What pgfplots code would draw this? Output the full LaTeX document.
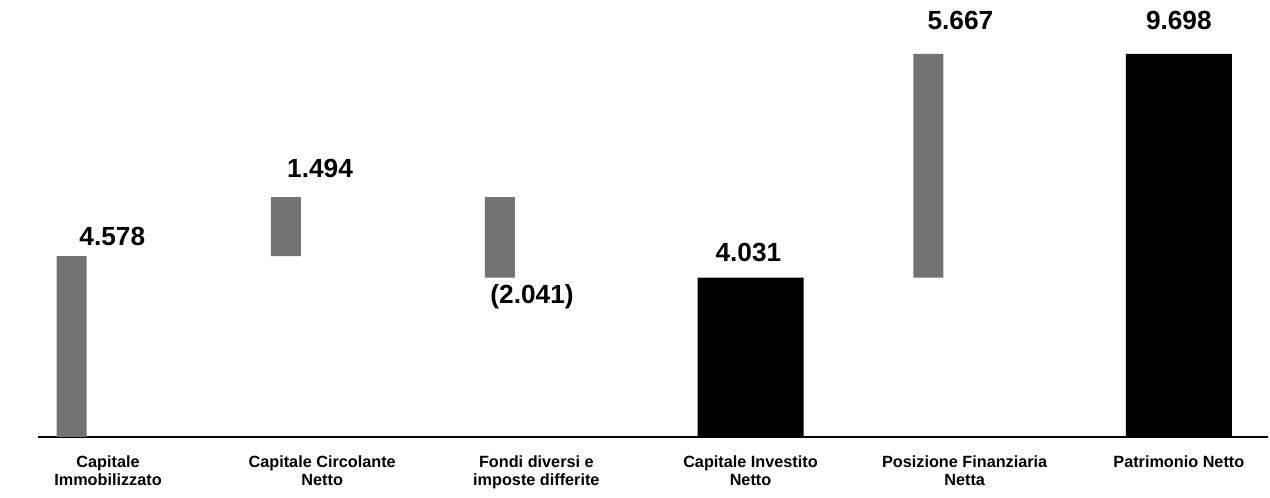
\documentclass[border=0pt]{standalone}
\usepackage{pgfplots}
\pgfplotsset{compat=1.18}
\usepackage{fontspec}
\setmainfont{Liberation Sans}
\tikzset{val/.style={font=\fontsize{10.5}{12}\selectfont\bfseries}}
\begin{document}
\begin{tikzpicture}
\begin{axis}[
    scale only axis,
    width=492pt, height=174.8pt,
    xmin=-0.327, xmax=5.414,
    ymin=0, ymax=11063,
    ybar stacked,
    axis y line=none,
    axis x line*=bottom,
    x axis line style={line width=1pt},
    xtick={0,1,2,3,4,5},
    xticklabels={{Capitale\\Immobilizzato}, {Capitale Circolante\\Netto}, {Fondi diversi e\\imposte differite}, {Capitale Investito\\Netto}, {Posizione Finanziaria\\Netta}, {Patrimonio Netto}},
    major tick length=0pt,
    x tick label style={align=center, font=\fontsize{6.5}{7.3}\selectfont\bfseries, yshift=-4pt},
    clip=false,
]
% invisible base of the floating bars
\addplot[draw=none, fill=white, fill opacity=0, bar width=0.14] coordinates {
    (-0.17,0) (0.83,4578) (1.83,4031) (3,0) (3.83,4031) (5,0)
};
% grey movements
\addplot[draw=none, fill=black!55, bar width=0.14] coordinates {
    (-0.17,4578) (0.83,1494) (1.83,2041) (3,0) (3.83,5667) (5,0)
};
% black totals
\addplot[draw=none, fill=black, bar width=0.495] coordinates {
    (-0.17,0) (0.83,0) (1.83,0) (3,4031) (3.83,0) (5,9698)
};
\node[val] at (axis cs:0.02,5063) {4.578};
\node[val] at (axis cs:0.99,6785) {1.494};
\node[val] at (axis cs:1.98,3544) {(2.041)};
\node[val] at (axis cs:2.99,4658) {4.031};
\node[val] at (axis cs:3.98,10532) {5.667};
\node[val] at (axis cs:5,10532) {9.698};
\end{axis}
\path (-15.2pt,-20.4pt) rectangle (493pt,174.8pt);
\end{tikzpicture}
\end{document}
